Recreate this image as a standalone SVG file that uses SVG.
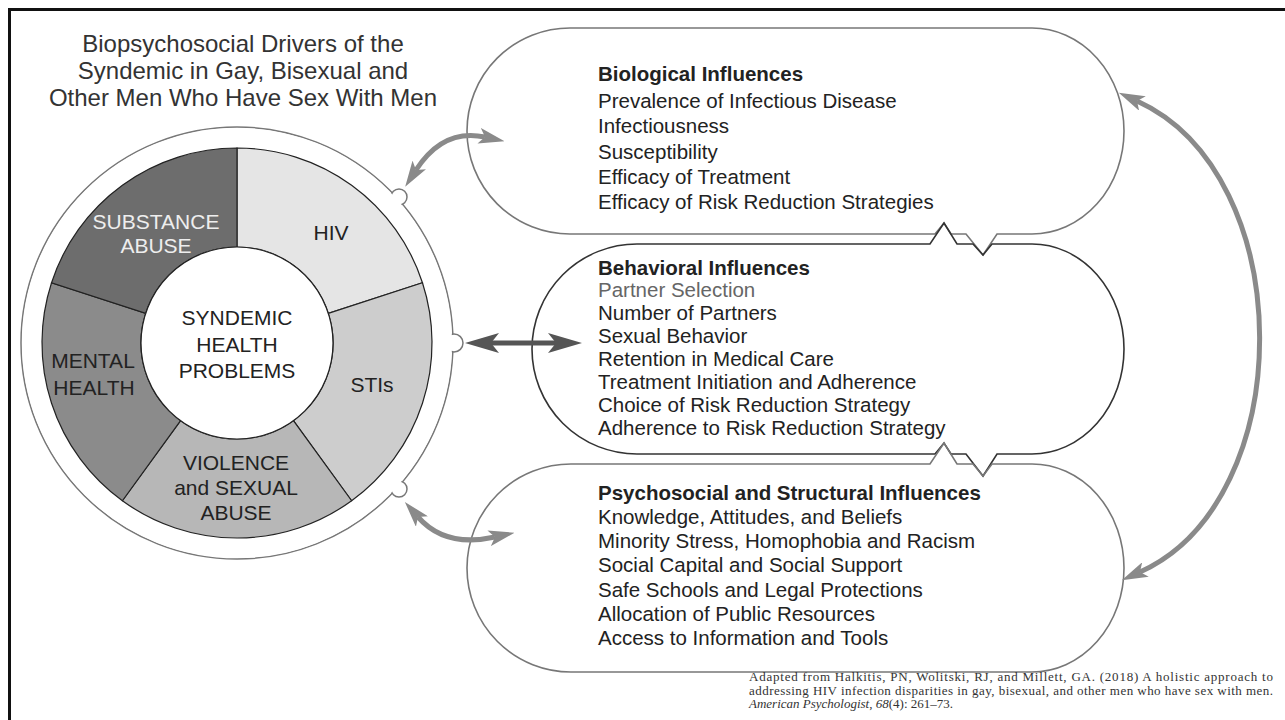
<svg xmlns="http://www.w3.org/2000/svg" width="1285" height="720" viewBox="0 0 1285 720">
<style>
.t{font-family:"Liberation Sans",Arial,sans-serif;fill:#222}
.title{font-size:24px;fill:#333;text-anchor:middle}
.seg{stroke:#222;stroke-width:1.2}
.cl{font-size:21px;text-anchor:middle}
.bx{font-size:20.5px}
.hd{font-weight:bold}
.box{fill:none;stroke:#777;stroke-width:1.6}
.cite{font-family:"Liberation Serif","Times New Roman",serif;font-size:13px;fill:#333}
.arr{fill:none;stroke:#8a8a8a;stroke-width:5}
</style>
<defs>
<marker id="ag" markerUnits="userSpaceOnUse" viewBox="0 0 26 16" markerWidth="26" markerHeight="16" refX="6" refY="8" orient="auto-start-reverse">
<path d="M0,0 L26,8 L0,16 L6,8 Z" fill="#8a8a8a"/>
</marker>
<marker id="ad" markerUnits="userSpaceOnUse" viewBox="0 0 34 20" markerWidth="34" markerHeight="20" refX="8" refY="10" orient="auto-start-reverse">
<path d="M0,0 L34,10 L0,20 L8,10 Z" fill="#555"/>
</marker>
</defs>
<rect x="0" y="0" width="1285" height="720" fill="#fff"/>
<rect x="9.5" y="9.5" width="1300" height="730" fill="none" stroke="#111" stroke-width="3"/>

<g id="title" class="t title">
<text x="243" y="52">Biopsychosocial Drivers of the</text>
<text x="243" y="79">Syndemic in Gay, Bisexual and</text>
<text x="243" y="106">Other Men Who Have Sex With Men</text>
</g>

<g id="wheel">
<circle cx="237" cy="343" r="216" fill="#fff" stroke="#777" stroke-width="1.5"/>
<circle cx="399" cy="197" r="8" fill="#fff" stroke="#777" stroke-width="1.5"/>
<circle cx="454" cy="343" r="9" fill="#fff" stroke="#777" stroke-width="1.5"/>
<circle cx="399" cy="489" r="8" fill="#fff" stroke="#777" stroke-width="1.5"/>
<circle cx="237" cy="343" r="215" fill="#fff"/>
<g id="seg-hiv"><path class="seg" fill="#e5e5e5" d="M237,148 A195,195 0 0 1 422.46,282.74 L328.31,313.34 A96,96 0 0 0 237,247 Z"/>
<text class="t cl" x="331" y="240">HIV</text></g>
<g id="seg-stis"><path class="seg" fill="#cdcdcd" d="M422.46,282.74 A195,195 0 0 1 351.62,500.76 L293.43,420.66 A96,96 0 0 0 328.31,313.34 Z"/>
<text class="t cl" x="372" y="392">STIs</text></g>
<g id="seg-violence"><path class="seg" fill="#b7b7b7" d="M351.62,500.76 A195,195 0 0 1 122.38,500.76 L180.57,420.66 A96,96 0 0 0 293.43,420.66 Z"/>
<text class="t cl" x="236" y="470">VIOLENCE</text>
<text class="t cl" x="236" y="495">and SEXUAL</text>
<text class="t cl" x="236" y="520">ABUSE</text></g>
<g id="seg-mental"><path class="seg" fill="#8b8b8b" d="M122.38,500.76 A195,195 0 0 1 51.54,282.74 L145.69,313.34 A96,96 0 0 0 180.57,420.66 Z"/>
<text class="t cl" x="93" y="368">MENTAL</text>
<text class="t cl" x="94" y="395">HEALTH</text></g>
<g id="seg-substance"><path class="seg" fill="#6d6d6d" d="M51.54,282.74 A195,195 0 0 1 237,148 L237,247 A96,96 0 0 0 145.69,313.34 Z"/>
<text class="t cl" x="156" y="229" style="fill:#eee">SUBSTANCE</text>
<text class="t cl" x="156" y="253" style="fill:#eee">ABUSE</text></g>
<g id="core"><circle cx="237" cy="343" r="96" fill="#fff" stroke="#222" stroke-width="1.2"/>
<text class="t cl" x="237" y="325">SYNDEMIC</text>
<text class="t cl" x="237" y="352">HEALTH</text>
<text class="t cl" x="237" y="378">PROBLEMS</text></g>
</g>

<g id="box-biological">
<path class="box" d="M570,28 L1032,28 A92,103 0 0 1 1032,234 L997,234 L983,255 L966,234 L951,234 L944,223 L935,234 L570,234 A103,103 0 0 1 570,28 Z"/>
<g class="t bx">
<text x="598" y="81" class="hd">Biological Influences</text>
<text x="598" y="108">Prevalence of Infectious Disease</text>
<text x="598" y="133">Infectiousness</text>
<text x="598" y="159">Susceptibility</text>
<text x="598" y="184">Efficacy of Treatment</text>
<text x="598" y="209">Efficacy of Risk Reduction Strategies</text>
</g>
</g>

<g id="box-behavioral">
<path class="box" style="stroke:#333" d="M637,244 L930,244 L944,223 L957,244 L973,244 L983,255 L992,244 L1032,244 A92,105 0 0 1 1032,454 L997,454 L983,476 L966,454 L951,454 L944,443 L935,454 L637,454 A105,105 0 0 1 637,244 Z"/>
<g class="t bx">
<text x="598" y="275" class="hd">Behavioral Influences</text>
<text x="598" y="297" style="fill:#666">Partner Selection</text>
<text x="598" y="320">Number of Partners</text>
<text x="598" y="343">Sexual Behavior</text>
<text x="598" y="366">Retention in Medical Care</text>
<text x="598" y="389">Treatment Initiation and Adherence</text>
<text x="598" y="412">Choice of Risk Reduction Strategy</text>
<text x="598" y="435">Adherence to Risk Reduction Strategy</text>
</g>
</g>

<g id="box-psychosocial">
<path class="box" d="M571,464 L930,464 L944,443 L957,464 L973,464 L983,476 L992,464 L1032,464 A92,104 0 0 1 1032,672 L571,672 A104,104 0 0 1 571,464 Z"/>
<g class="t bx">
<text x="598" y="500" class="hd">Psychosocial and Structural Influences</text>
<text x="598" y="524">Knowledge, Attitudes, and Beliefs</text>
<text x="598" y="548">Minority Stress, Homophobia and Racism</text>
<text x="598" y="572">Social Capital and Social Support</text>
<text x="598" y="597">Safe Schools and Legal Protections</text>
<text x="598" y="621">Allocation of Public Resources</text>
<text x="598" y="645">Access to Information and Tools</text>
</g>
</g>

<g id="connectors">
<path class="arr" d="M416,170 Q443,128 485,137" marker-start="url(#ag)" marker-end="url(#ag)"/>
<path d="M491,343 L556,343" fill="none" stroke="#555" stroke-width="5" marker-start="url(#ad)" marker-end="url(#ad)"/>
<path class="arr" d="M418,517 Q445,548 495,537" marker-start="url(#ag)" marker-end="url(#ag)"/>
<path class="arr" d="M1137,101 C1300,175 1300,500 1140,572" marker-start="url(#ag)" marker-end="url(#ag)"/>
</g>

<g id="citation" class="cite">
<text x="749" y="681" textLength="524" lengthAdjust="spacing">Adapted from Halkitis, PN, Wolitski, RJ, and Millett, GA. (2018) A holistic approach to</text>
<text x="749" y="694.5" textLength="524" lengthAdjust="spacing">addressing HIV infection disparities in gay, bisexual, and other men who have sex with men.</text>
<text x="749" y="708"><tspan font-style="italic">American Psychologist</tspan>, <tspan font-style="italic">68</tspan>(4): 261–73.</text>
</g>
</svg>
